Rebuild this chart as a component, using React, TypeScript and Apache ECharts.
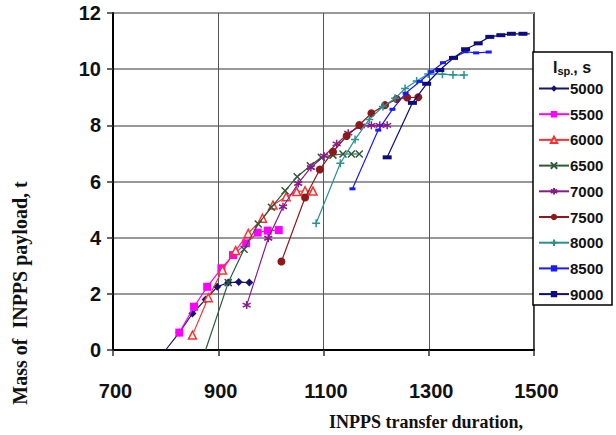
import React, { useEffect, useRef } from "react";
import * as echarts from "echarts";

const xTicks = [700, 900, 1100, 1300, 1500];
const yTicks = [0, 2, 4, 6, 8, 10, 12];
const xTitle = "INPPS transfer duration,";
const yTitle = "Mass of  INPPS payload, t";

const isp = ["5000", "5500", "6000", "6500", "7000", "7500", "8000", "8500", "9000"];

const dur5000 = [800, 826, 851, 876, 898, 919, 939, 959];
const mass5000 = [0, 0.62, 1.3, 1.8, 2.25, 2.4, 2.42, 2.4];
const dur5500 = [826, 854, 879, 906, 928, 953, 975, 994, 1015];
const mass5500 = [0.62, 1.54, 2.25, 2.91, 3.38, 3.8, 4.18, 4.25, 4.27];
const dur6000 = [851, 881, 908, 933, 957, 984, 1004, 1029, 1049, 1065, 1080];
const mass6000 = [0.53, 1.86, 2.85, 3.54, 4.15, 4.69, 5.16, 5.46, 5.64, 5.67, 5.66];
const dur6500 = [876, 919, 949, 976, 1001, 1027, 1050, 1075, 1096, 1118, 1137, 1153, 1168];
const mass6500 = [0, 2.4, 3.59, 4.49, 5.08, 5.67, 6.17, 6.56, 6.86, 6.94, 6.98, 6.98, 6.98];
const dur7000 = [954, 995, 1023, 1052, 1076, 1101, 1125, 1147, 1171, 1191, 1207, 1221];
const mass7000 = [1.6, 3.98, 5.1, 5.93, 6.5, 6.91, 7.34, 7.72, 7.98, 8.0, 8.0, 8.0];
const dur7500 = [1020, 1065, 1093, 1118, 1144, 1168, 1191, 1217, 1239, 1259, 1280];
const mass7500 = [3.15, 5.43, 6.43, 7.06, 7.62, 8.01, 8.43, 8.72, 8.94, 8.99, 9.0];
const dur8000 = [1086, 1132, 1160, 1187, 1213, 1236, 1255, 1277, 1299, 1326, 1346, 1367];
const mass8000 = [4.51, 6.65, 7.5, 8.21, 8.67, 8.96, 9.31, 9.58, 9.83, 9.82, 9.8, 9.79];
const dur8500 = [1155, 1204, 1231, 1256, 1283, 1305, 1327, 1348, 1370, 1390, 1414];
const mass8500 = [5.74, 7.83, 8.57, 9.14, 9.56, 9.91, 10.23, 10.42, 10.62, 10.58, 10.61];
const dur9000 = [1221, 1269, 1296, 1321, 1347, 1370, 1394, 1416, 1437, 1457, 1479, 1492];
const mass9000 = [6.86, 8.8, 9.48, 9.97, 10.4, 10.71, 10.92, 11.15, 11.21, 11.26, 11.26, 11.26];

const durs = [dur5000, dur5500, dur6000, dur6500, dur7000, dur7500, dur8000, dur8500, dur9000];
const masses = [mass5000, mass5500, mass6000, mass6500, mass7000, mass7500, mass8000, mass8500, mass9000];
const colors = ["#14146e", "#ff00ff", "#ff3030", "#2c5a3a", "#8a1a8a", "#8b1a1a", "#2a9090", "#1a1aff", "#0c0c80"];
const hiddenFirst = [true, false, false, true, false, false, false, false, false];
const hiddenLast = [false, false, false, false, false, false, false, false, true];

const symbols: any[] = [
  "diamond",
  "rect",
  "triangle",
  "path://M0,0L10,10M10,0L0,10",
  "path://M5,0L5,10M0,2.5L10,7.5M0,7.5L10,2.5",
  "circle",
  "path://M5,0L5,10M0,5L10,5",
  "rect",
  "rect",
];
const symbolSizes: any[] = [8, 8, 8, 7, 8, 8, 8, [6, 3], [9, 4]];

const numFont = "'Liberation Sans', Arial, sans-serif";
const serif = "'Liberation Serif', 'Times New Roman', serif";

export default function App() {
  const ref = useRef<HTMLDivElement>(null);
  useEffect(() => {
    document.body.style.margin = "0";
    if (!ref.current) return;
    const chart = echarts.init(ref.current, undefined, { renderer: "svg" });
    const series = isp.map((name, i) => {
      const stroked = i === 2 || i === 3 || i === 4 || i === 6;
      return {
        name,
        type: "line",
        data: durs[i].map((d, j) => {
          const item: any = { value: [d, masses[i][j]] };
          if ((hiddenFirst[i] && j === 0) || (hiddenLast[i] && j === durs[i].length - 1)) item.symbol = "none";
          return item;
        }),
        symbol: symbols[i],
        symbolSize: symbolSizes[i],
        showSymbol: true,
        lineStyle: { color: colors[i], width: 1.2 },
        itemStyle: stroked
          ? { color: i === 2 ? "#ffffff" : colors[i], borderColor: colors[i], borderWidth: 1.5 }
          : { color: colors[i], borderWidth: 0 },
        z: 2 + i,
      };
    });
    chart.setOption({
      animation: false,
      backgroundColor: "#ffffff",
      grid: {
        left: 113,
        right: 82,
        top: 13,
        bottom: 85,
        show: true,
        borderColor: "#000",
        borderWidth: 1.5,
      },
      xAxis: {
        type: "value",
        min: 700,
        max: 1500,
        interval: 200,
        axisLine: { show: true, lineStyle: { color: "#000", width: 2 } },
        axisTick: { show: true, length: 6, lineStyle: { color: "#333", width: 1.5 } },
        axisLabel: {
          margin: 31,
          color: "#111",
          fontFamily: numFont,
          fontWeight: "bold",
          fontSize: 20,
          padding: [0, 0, 0, 5],
          formatter: (v: number) => (xTicks.includes(v) ? String(v) : ""),
        },
        splitLine: { show: true, lineStyle: { color: "#555", width: 1 } },
      },
      yAxis: {
        type: "value",
        min: 0,
        max: 12,
        interval: 2,
        axisLine: { show: true, lineStyle: { color: "#000", width: 2 } },
        axisTick: { show: true, length: 6, lineStyle: { color: "#333", width: 1.5 } },
        axisLabel: {
          margin: 12,
          color: "#111",
          fontFamily: numFont,
          fontWeight: "bold",
          fontSize: 20,
          padding: [6, 0, 0, 0],
          formatter: (v: number) => (yTicks.includes(v) ? String(v) : ""),
        },
        splitLine: { show: true, lineStyle: { color: "#999", width: 2 } },
      },
      legend: {
        orient: "vertical",
        left: 538,
        top: 81,
        itemWidth: 30,
        itemHeight: 8,
        itemGap: 10.7,
        padding: 0,
        data: isp,
        textStyle: {
          fontFamily: numFont,
          fontWeight: "bold",
          fontSize: 15,
          color: "#111",
          padding: [0, 0, 0, -4],
        },
      },
      graphic: [
        {
          type: "rect",
          shape: { x: 533, y: 52, width: 79, height: 253 },
          style: { fill: "#fff", stroke: "#000", lineWidth: 1.5 },
          z: 1,
        },
        {
          type: "text",
          x: 572,
          y: 67,
          z: 5,
          style: {
            text: "{a|I}{b|sp.}{a|, s}",
            align: "center",
            verticalAlign: "middle",
            rich: {
              a: { fontFamily: numFont, fontWeight: "bold", fontSize: 16, fill: "#111" },
              b: { fontFamily: numFont, fontWeight: "bold", fontSize: 11, fill: "#111", padding: [8, 0, 0, 0] },
            },
          },
        },
        {
          type: "text",
          x: 426,
          y: 422,
          style: {
            text: xTitle,
            align: "center",
            verticalAlign: "middle",
            fontFamily: serif,
            fontWeight: "bold",
            fontSize: 18,
            fill: "#111",
          },
        },
        {
          type: "text",
          x: 20,
          y: 293,
          rotation: Math.PI / 2,
          style: {
            text: yTitle,
            align: "center",
            verticalAlign: "middle",
            fontFamily: serif,
            fontWeight: "bold",
            fontSize: 20,
            fill: "#111",
          },
        },
      ],
      series,
    });
    return () => chart.dispose();
  }, []);
  return <div ref={ref} style={{ width: 616, height: 435 }} />;
}
